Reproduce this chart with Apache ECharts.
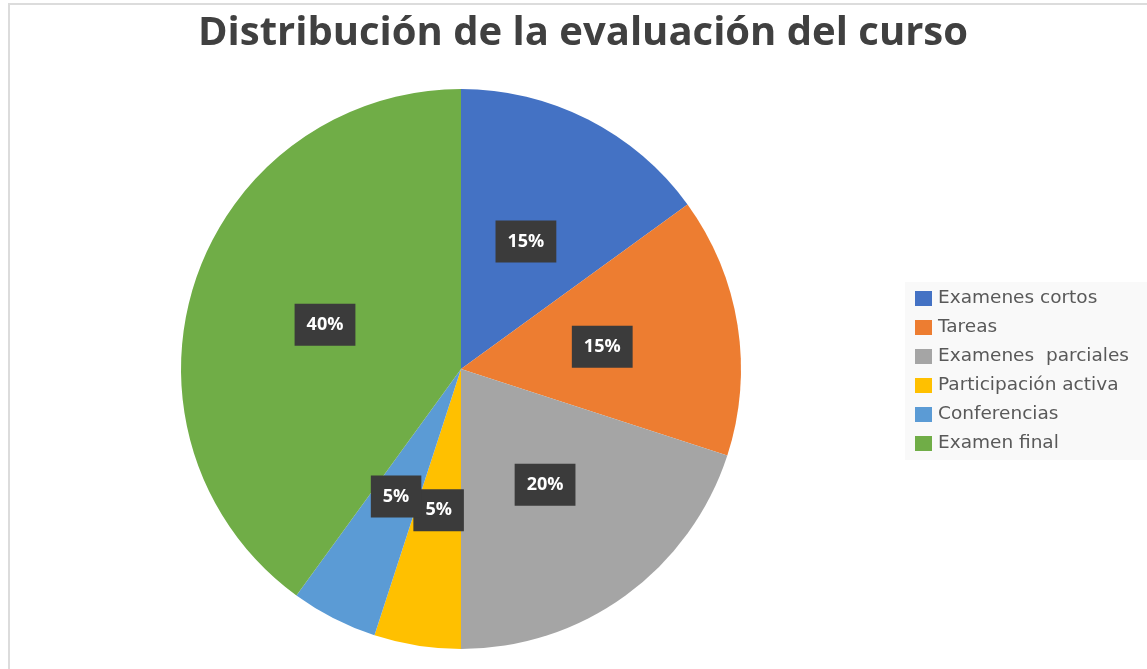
<!DOCTYPE html>
<html>
<head>
<meta charset="utf-8">
<script src="https://cdn.jsdelivr.net/npm/echarts@6/dist/echarts.min.js"></script>
<style>
  html, body { margin: 0; padding: 0; background: #fff; }
  #wrap { position: absolute; left: 0; top: 0; width: 1147px; height: 669px; overflow: hidden; }
  #frame { position: absolute; left: 8px; top: 3px; width: 1160px; height: 700px;
           border-top: 2px solid #dcdcdc; border-left: 2px solid #dcdcdc; }
  #chart { position: absolute; left: 0; top: 0; width: 1147px; height: 669px; }
</style>
</head>
<body>
<div id="wrap">
  <div id="frame"></div>
  <div id="chart"></div>
</div>
<script>
  // datos del gráfico
  var categorias = ['Examenes cortos', 'Tareas', 'Examenes  parciales', 'Participación activa', 'Conferencias', 'Examen final'];
  var valores = [15, 15, 20, 5, 5, 40];
  var colores = ['#4472C4', '#ED7D31', '#A5A5A5', '#FFC000', '#5B9BD5', '#70AD47'];

  var chart = echarts.init(document.getElementById('chart'));

  var datos = categorias.map(function (c, i) {
    return { name: c, value: valores[i], itemStyle: { color: colores[i] } };
  });

  var option = {
    animation: false,
    title: {
      text: 'Distribución de la evaluación del curso',
      left: 578,
      textAlign: 'center',
      top: 9,
      textStyle: {
        fontFamily: 'Open Sans',
        fontWeight: 'bold',
        fontSize: 40,
        color: '#404040'
      }
    },
    legend: {
      orient: 'vertical',
      left: 905,
      top: 282,
      padding: [7, 20, 7, 10],
      backgroundColor: '#f9f9f9',
      icon: 'rect',
      itemWidth: 17,
      itemHeight: 15,
      itemGap: 10,
      selectedMode: false,
      textStyle: {
        fontFamily: 'DejaVu Sans',
        fontSize: 18.5,
        color: '#595959',
        padding: [0, 0, 0, 1]
      },
      data: categorias
    },
    series: [{
      type: 'pie',
      center: [461, 369],
      radius: 280,
      startAngle: 90,
      clockwise: true,
      avoidLabelOverlap: false,
      itemStyle: { borderWidth: 0 },
      label: {
        show: true,
        position: 'inside',
        formatter: function (p) { return p.value + '%'; },
        color: '#fff',
        fontFamily: 'Open Sans',
        fontWeight: 'bold',
        fontSize: 18,
        lineHeight: 22,
        backgroundColor: '#3b3b3b',
        padding: [10, 12]
      },
      labelLine: { show: false },
      labelLayout: { hideOverlap: false },
      emphasis: { disabled: true },
      data: datos
    }]
  };

  chart.setOption(option);
</script>
</body>
</html>
